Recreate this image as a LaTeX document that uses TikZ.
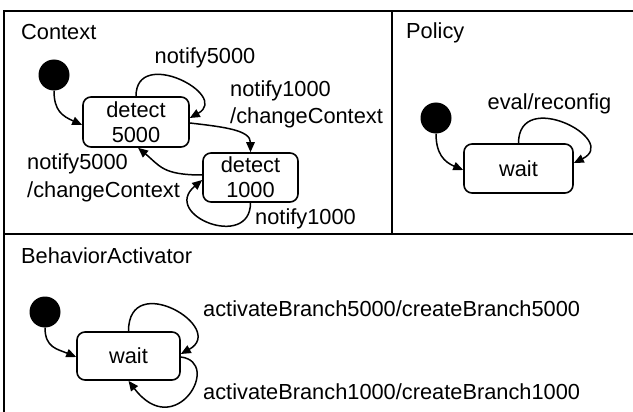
\documentclass[tikz,border=0pt]{standalone}
\usepackage{fontspec}
\setmainfont{Liberation Sans}
\usetikzlibrary{arrows.meta,calc}
\begin{document}
\begin{tikzpicture}[x=1pt,y=1pt,
  every node/.style={font=\fontsize{21.8}{25}\selectfont},
  lbl/.style={inner sep=0pt},
  startdot/.style={circle,fill=black,draw=none,inner sep=0pt,minimum size=31pt},
  stbox/.style={draw,rounded corners=8pt,line width=1.6pt,inner sep=0pt,align=center},
  tr/.style={line width=1.5pt,-{Triangle[length=10pt,width=8.5pt]}},
  frm/.style={line width=2pt}]
\useasboundingbox (0,0) rectangle (633,-412);
% frame
\draw[frm] (633,-11) -- (4,-11) -- (4,-412);
\draw[frm] (392,-11) -- (392,-234);
\draw[frm] (4,-234) -- (633,-234);

% ---------- Context ----------
\node[lbl,anchor=base west] (ctx) at (21,-39.3) {Context};
\node[startdot] (c0) at (54,-75) {};
\node[stbox,minimum width=106pt,minimum height=50pt] (s5000) at (136,-122) {detect\\5000};
\node[stbox,minimum width=95pt,minimum height=49pt] (s1000) at (250.5,-177.5) {detect\\1000};
\node[lbl,anchor=base] (l5top) at (205,-63.3) {notify5000};
\node[lbl,anchor=base west] (l1a) at (230,-96.7) {notify1000};
\node[lbl,anchor=base west] (l1b) at (230,-124) {/changeContext};
\node[lbl,anchor=base west] (l5a) at (27,-170) {notify5000};
\node[lbl,anchor=base west] (l5b) at (27,-197) {/changeContext};
\node[lbl,anchor=base west] (l1bot) at (255,-225) {notify1000};

\draw[tr] (c0.south) .. controls +(0,-20) and +(-20,9) .. ($(s5000.west)+(0,-3)$);
\draw[tr] (s5000.north) .. controls +(0,50) and +(41,23) .. ($(s5000.east)+(0,4)$);
\draw[tr] ($(s5000.east)+(0,-1)$) .. controls +(35,-4) and +(0,22) .. (s1000.north);
\draw[tr] ($(s1000.west)+(0,2.5)$) .. controls +(-40,0) and +(22,-18) .. ($(s5000.south)+(2,0)$);
\draw[tr] (s1000.south) .. controls +(0,-48) and +(-42,-35) .. ($(s1000.west)+(0,-2.5)$);

% ---------- Policy ----------
\node[lbl,anchor=base west] (pol) at (406,-39) {Policy};
\node[startdot] (p0) at (436,-118) {};
\node[stbox,minimum width=109pt,minimum height=49pt] (pw) at (518.5,-168.5) {wait};
\node[lbl,anchor=base] (lev) at (549.5,-110) {eval/reconfig};
\draw[tr] (p0.south) .. controls +(0,-20) and +(-19,8) .. ($(pw.west)+(0,-1.5)$);
\draw[tr] (pw.north) .. controls +(0,56) and +(47,23) .. ($(pw.east)+(0,5.5)$);

% ---------- BehaviorActivator ----------
\node[lbl,anchor=base west] (ba) at (21,-263.7) {BehaviorActivator};
\node[startdot] (b0) at (45,-312) {};
\node[stbox,minimum width=103pt,minimum height=48pt] (bw) at (128.5,-356) {wait};
\node[lbl,anchor=base west] (lab5) at (203,-316) {activateBranch5000/createBranch5000};
\node[lbl,anchor=base west] (lab1) at (203,-399) {activateBranch1000/createBranch1000};
\draw[tr] (b0.south) .. controls +(0,-20) and +(-19,8) .. ($(bw.west)+(0,-1)$);
\draw[tr] (bw.north) .. controls +(0,62) and +(47,26) .. ($(bw.east)+(0,2)$);
\draw[tr] ($(bw.east)+(0,-1)$) .. controls +(42,-5) and +(47,-62) .. (bw.south);
\end{tikzpicture}
\end{document}
